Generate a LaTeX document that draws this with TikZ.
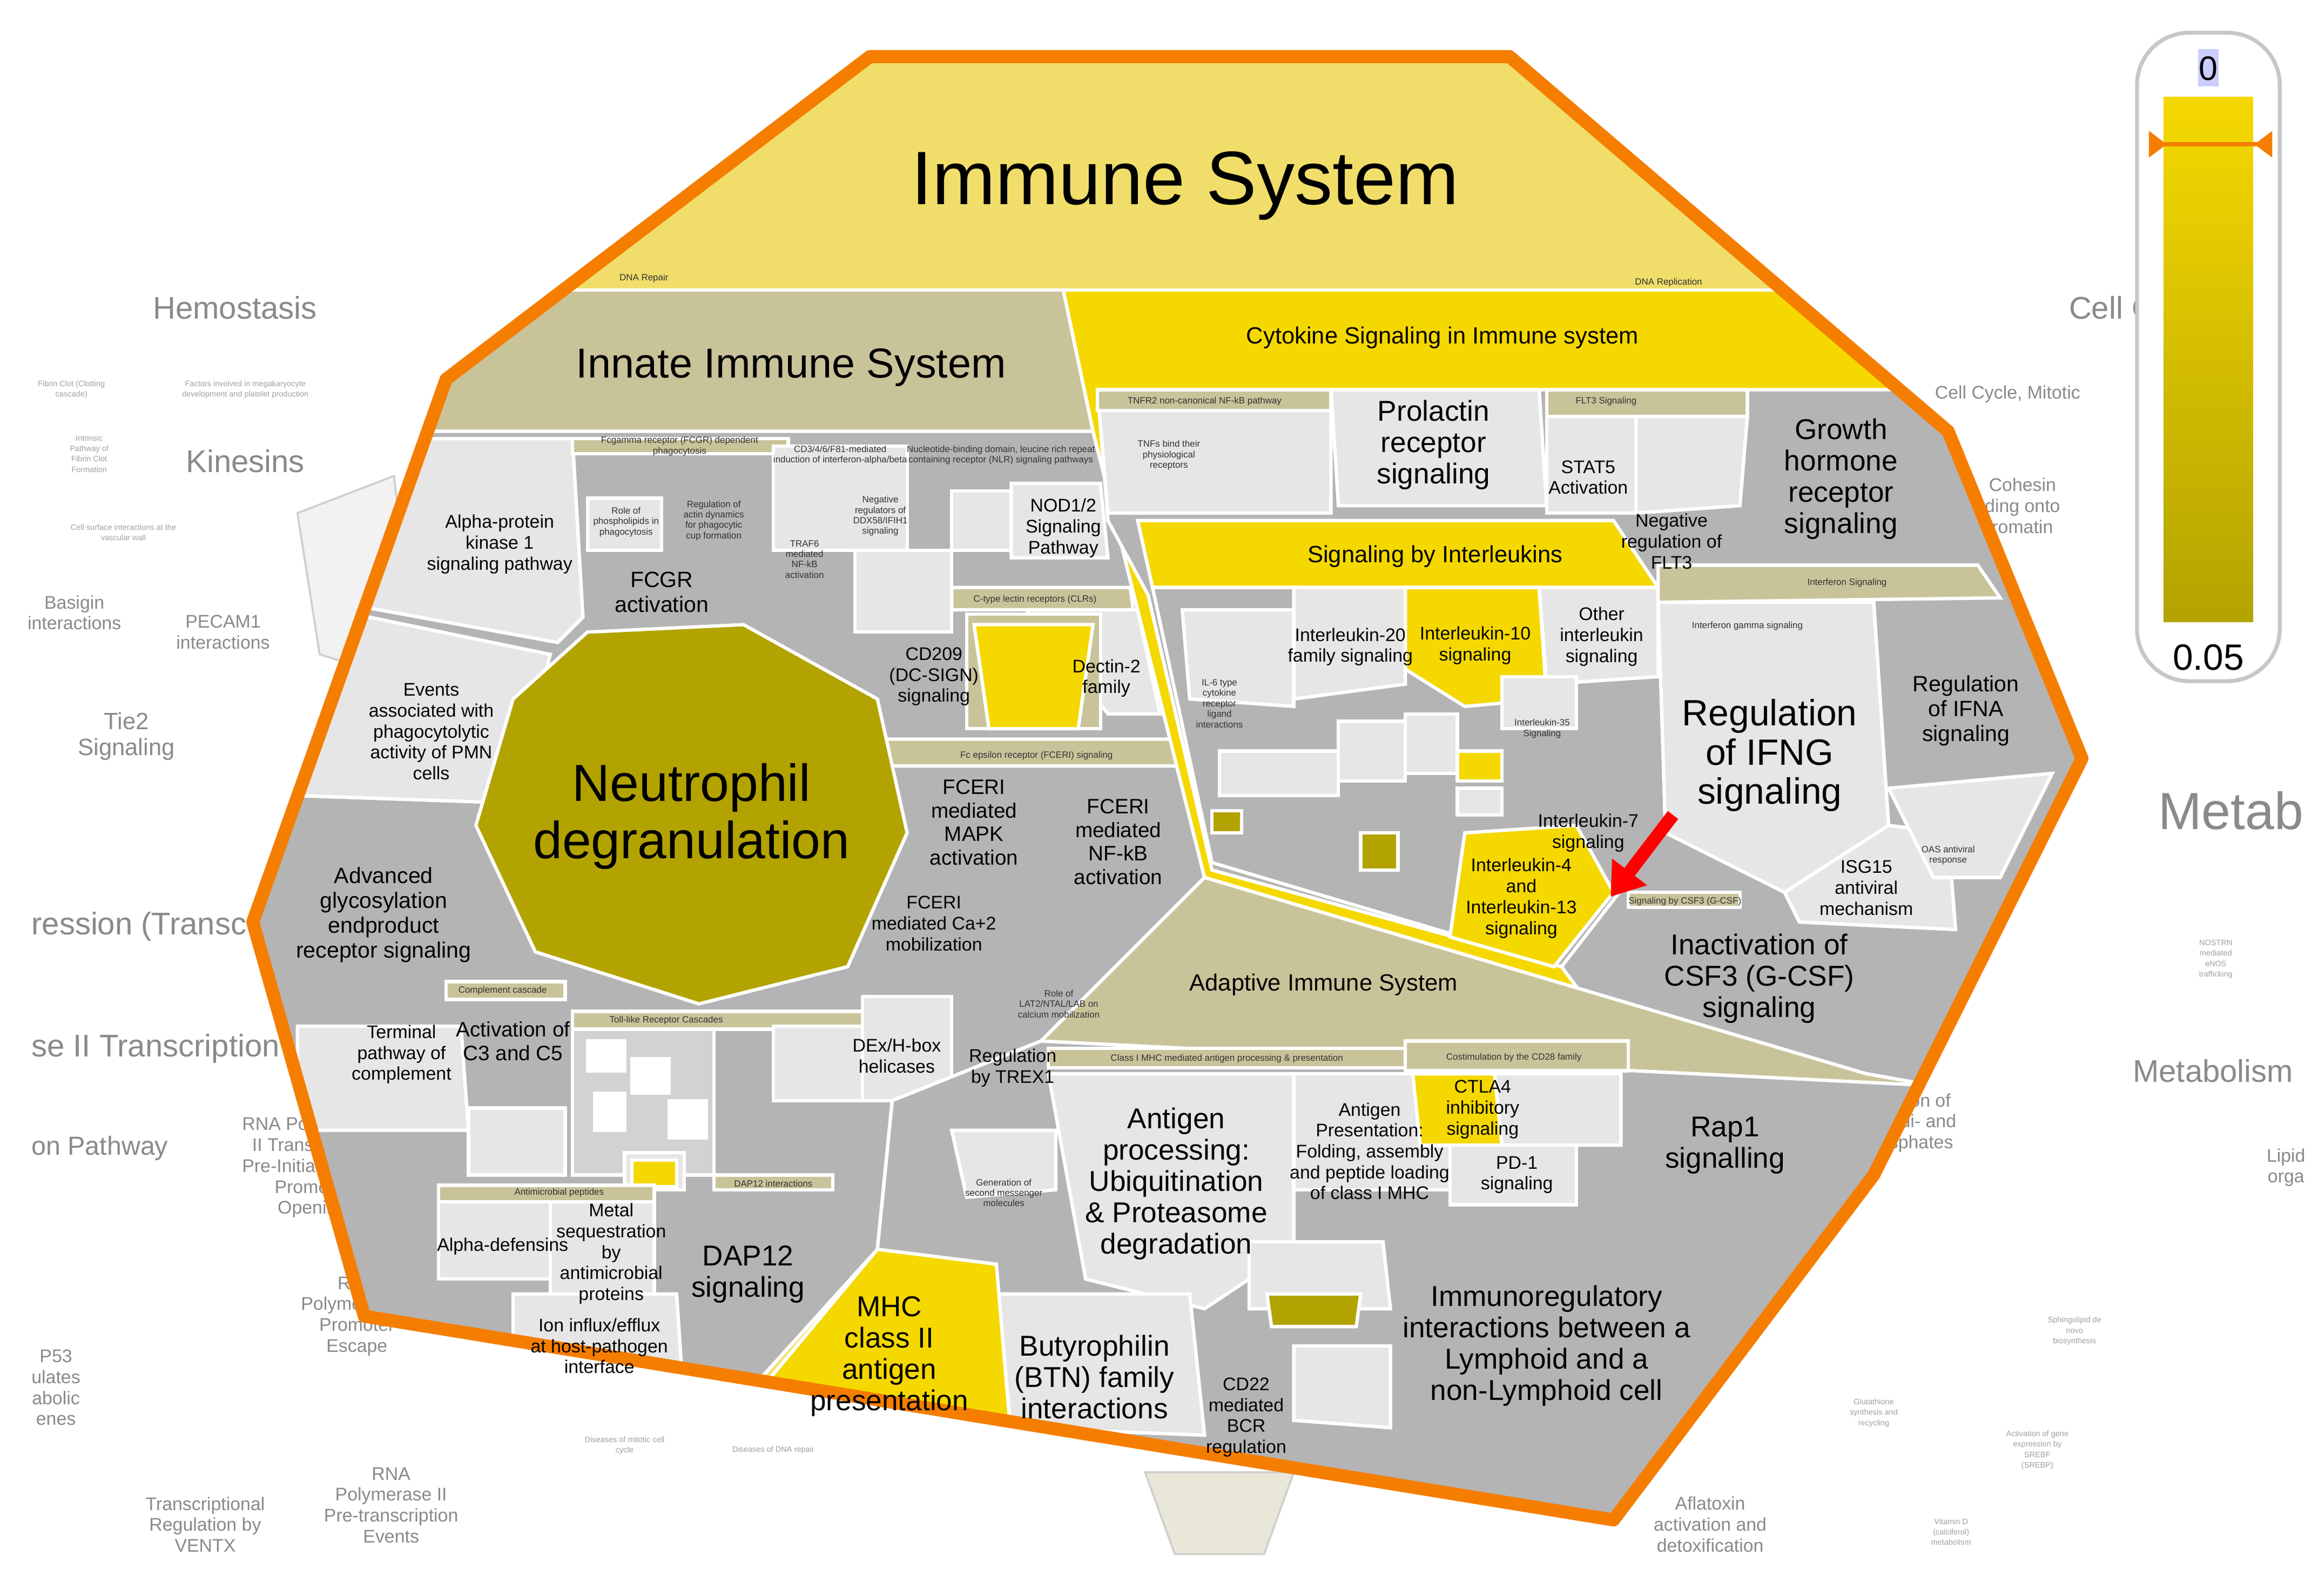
\documentclass[tikz,border=0pt]{standalone}
\usepackage{fontspec}
\setmainfont{Liberation Sans}
\usetikzlibrary{arrows.meta}
\begin{document}
\definecolor{gr}{HTML}{B4B4B4}
\definecolor{lg}{HTML}{E6E6E6}
\definecolor{tan}{HTML}{C9C39A}
\definecolor{yl}{HTML}{F5D800}
\definecolor{ty}{HTML}{F1DE6A}
\definecolor{ol}{HTML}{B3A300}
\definecolor{org}{HTML}{F57E00}
\definecolor{fa}{HTML}{8A8A8A}
\begin{tikzpicture}[x=0.02cm,y=-0.02cm,
 cell/.style={draw=white,line width=1.3pt},
 t/.style={font=\fontsize{7}{8}\selectfont,align=center},
 ts/.style={font=\fontsize{3.5}{4}\selectfont,align=center,text=black!80},
 tm/.style={font=\fontsize{11}{12}\selectfont,align=center},
 tb/.style={font=\fontsize{14}{15}\selectfont,align=center},
 th/.style={font=\fontsize{9}{10}\selectfont,align=center},
 bg/.style={font=\fontsize{12}{13}\selectfont,align=center,text=fa},
 bgs/.style={font=\fontsize{7}{8}\selectfont,align=center,text=fa},
 bgt/.style={font=\fontsize{3}{4}\selectfont,align=center,text=fa!80}]
\useasboundingbox (0,0) rectangle (1550,1073);
% background labels
\node[bg] (b1) at (158,207) {Hemostasis};
\node[bg] (b2) at (165,310) {Kinesins};
\node[bgs] (b3) at (50,412) {Basigin\\interactions};
\node[bgs] (b4) at (150,425) {PECAM1\\interactions};
\node[bgs,font=\fontsize{9}{10}\selectfont] (b5) at (85,495) {Tie2\\Signaling};
\node[bg,anchor=west] (b6) at (15,623) {ression (Transc};
\node[bg,anchor=west] (b7) at (15,705) {se II Transcription};
\node[bg,anchor=west,font=\fontsize{10}{11}\selectfont] (b8) at (15,772) {on Pathway};
\node[bgs] (b9) at (210,785) {RNA Polymerase\\II Transcription\\Pre-Initiation And\\Promoter\\Opening};
\node[bgs] (b10) at (263,1012) {RNA\\Polymerase II\\Pre-transcription\\Events};
\node[bgs] (b11) at (138,1025) {Transcriptional\\Regulation by\\VENTX};
\node[bgs] (b12) at (240,885) {RNA\\Polymerase II\\Promoter\\Escape};
\node[bgs,anchor=west] (b13) at (15,933) {P53\\ulates\\abolic\\enes};
\node[bg] (b14) at (1420,207) {Cell C};
\node[bgs] (b15) at (1350,265) {Cell Cycle, Mitotic};
\node[bg,font=\fontsize{20}{22}\selectfont,anchor=west] (b16) at (1445,545) {Metab};
\node[bg,anchor=west] (b17) at (1428,720) {Metabolism};
\node[bgs,anchor=west] (b18) at (1518,785) {Lipid\\orga};
\node[bgs] (b19) at (1150,1025) {Aflatoxin\\activation and\\detoxification};
\node[bgs] (b20) at (1285,755) {version of\\tide di- and\\hosphates};
\node[bgs] (b21) at (1360,340) {Cohesin\\ding onto\\romatin};
\node[bgt] (b22) at (48,262) {Fibrin Clot (Clotting\\cascade)};
\node[bgt] (b23) at (165,262) {Factors involved in megakaryocyte\\development and platelet production};
\node[bgt] (b24) at (60,305) {Intrinsic\\Pathway of\\Fibrin Clot\\Formation};
\node[bgt] (b25) at (83,358) {Cell surface interactions at the\\vascular wall};
\node[bgt] (b26) at (1490,645) {NOSTRN\\mediated\\eNOS\\trafficking};
\node[bgt] (b27) at (1312,1030) {Vitamin D\\(calciferol)\\metabolism};
\node[bgt] (b28) at (1370,975) {Activation of gene\\expression by\\SREBF\\(SREBP)};
\node[bgt] (b29) at (1260,950) {Glutathione\\synthesis and\\recycling};
\node[bgt] (b30) at (1395,895) {Sphingolipid de\\novo\\biosynthesis};
\node[bgt] (b31) at (520,975) {Diseases of DNA repair};
\node[bgt] (b32) at (420,972) {Diseases of mitotic cell\\cycle};
% faded outer polygon
\draw[fa!40,line width=0.8pt,fill=lg!50] (200,345)--(265,320)--(280,460)--(215,440)--cycle;
\draw[fa!40,line width=0.8pt,fill=tan!40] (770,990)--(870,990)--(850,1045)--(790,1045)--cycle;
% Octagon
\coordinate (o1) at (585,38); \coordinate (o2) at (1015,38); \coordinate (o3) at (1310,290);
\coordinate (o4) at (1400,510); \coordinate (o5) at (1260,790); \coordinate (o6) at (1085,1022);
\coordinate (o7) at (245,885); \coordinate (o8) at (170,620); \coordinate (o9) at (300,255);
\fill[ty] (o1)--(o2)--(o3)--(o4)--(o5)--(o6)--(o7)--(o8)--(o9)--cycle;
\begin{scope}
\clip (o1)--(o2)--(o3)--(o4)--(o5)--(o6)--(o7)--(o8)--(o9)--cycle;
% Innate
\fill[tan,cell] (230,195)--(715,195)--(735,290)--(810,590)--(700,700)--(600,740)--(590,840)--(495,945)--(200,900)--(120,620)--cycle;
\fill[gr,cell] (200,290)--(735,290)--(810,590)--(700,700)--(600,740)--(590,840)--(495,945)--(200,900)--(120,620)--cycle;
\fill[lg,cell] (200,295)--(385,295)--(392,415)--(375,432)--(200,400)--cycle;
\fill[lg,cell] (200,405)--(370,440)--(345,540)--(200,535)--cycle;
\fill[tan,cell] (385,295)--(530,295)--(530,305)--(385,305)--cycle;
\fill[lg,cell] (520,300)--(610,300)--(610,370)--(520,370)--cycle;
\fill[lg,cell] (575,370)--(640,370)--(640,425)--(575,425)--cycle;
\fill[lg,cell] (395,335)--(445,335)--(445,370)--(395,370)--cycle;
\fill[lg,cell] (640,330)--(680,330)--(680,370)--(640,370)--cycle;
\fill[lg,cell] (680,325)--(740,325)--(745,375)--(680,375)--cycle;
\fill[tan,cell] (640,395)--(760,395)--(762,410)--(640,410)--cycle;
\fill[lg,cell] (690,410)--(765,410)--(780,480)--(745,480)--cycle;
\fill[tan,cell] (650,413)--(740,413)--(740,490)--(650,490)--cycle;
\fill[yl,cell] (655,420)--(735,420)--(725,490)--(665,490)--cycle;
\fill[tan,cell] (595,497)--(790,497)--(795,515)--(595,515)--cycle;
\fill[ol,cell] (395,425)--(500,420)--(590,470)--(610,560)--(570,650)--(470,675)--(360,640)--(320,555)--(345,470)--cycle;
\fill[tan,cell] (300,660)--(380,660)--(380,672)--(300,672)--cycle;
\fill[lg,cell] (200,690)--(310,690)--(315,760)--(200,760)--cycle;
\fill[lg,cell] (315,745)--(380,745)--(380,790)--(315,790)--cycle;
\fill[tan,cell] (385,680)--(585,680)--(585,692)--(385,692)--cycle;
\fill[lg!80!gray,cell] (385,692)--(480,692)--(480,790)--(385,790)--cycle;
\fill[white,cell] (395,700)--(420,700)--(420,720)--(395,720)--cycle;
\fill[white,cell] (425,712)--(450,712)--(450,735)--(425,735)--cycle;
\fill[white,cell] (400,735)--(420,735)--(420,760)--(400,760)--cycle;
\fill[white,cell] (450,740)--(475,740)--(475,765)--(450,765)--cycle;
\fill[lg,cell] (520,690)--(580,690)--(580,740)--(520,740)--cycle;
\fill[lg,cell] (580,670)--(640,670)--(640,740)--(580,740)--cycle;
\fill[lg,cell] (420,775)--(460,775)--(460,800)--(420,800)--cycle;
\fill[yl,cell] (425,780)--(455,780)--(455,798)--(425,798)--cycle;
\fill[tan,cell] (295,797)--(440,797)--(440,808)--(295,808)--cycle;
\fill[lg,cell] (295,808)--(370,808)--(370,860)--(295,860)--cycle;
\fill[lg,cell] (370,808)--(440,808)--(440,870)--(370,870)--cycle;
\fill[lg,cell] (345,870)--(455,870)--(460,945)--(345,945)--cycle;
\fill[tan,cell] (480,790)--(560,790)--(560,800)--(480,800)--cycle;
% Cytokine
\fill[yl,cell] (715,195)--(1330,195)--(1410,510)--(1255,722)--(810,590)--(735,290)--cycle;
\fill[gr,cell] (738,262)--(1330,262)--(1410,510)--(1300,730)--(1255,722)--(1080,690)--(1050,650)--(815,585)--(772,400)--(745,350)--cycle;
\fill[lg,cell] (738,262)--(895,262)--(895,345)--(745,345)--cycle;
\fill[tan,cell] (738,262)--(895,262)--(895,276)--(738,276)--cycle;
\fill[lg,cell] (895,262)--(1035,262)--(1040,340)--(900,340)--cycle;
\fill[tan,cell] (1040,262)--(1175,262)--(1175,280)--(1040,280)--cycle;
\fill[lg,cell] (1040,280)--(1100,280)--(1100,345)--(1040,345)--cycle;
\fill[lg,cell] (1100,280)--(1175,280)--(1170,340)--(1100,345)--cycle;
\fill[yl,cell] (765,350)--(1085,350)--(1115,395)--(775,395)--cycle;
\fill[gr,cell] (775,395)--(1115,395)--(1120,560)--(1050,650)--(815,580)--cycle;
\fill[lg,cell] (795,410)--(870,410)--(870,475)--(800,470)--cycle;
\fill[lg,cell] (870,395)--(945,395)--(945,460)--(870,470)--cycle;
\fill[yl,cell] (945,395)--(1035,395)--(1040,470)--(985,475)--(945,450)--cycle;
\fill[lg,cell] (1035,395)--(1115,395)--(1115,455)--(1040,460)--cycle;
\fill[lg,cell] (900,485)--(945,485)--(945,525)--(900,525)--cycle;
\fill[lg,cell] (945,480)--(980,480)--(980,520)--(945,520)--cycle;
\fill[yl,cell] (980,505)--(1010,505)--(1010,525)--(980,525)--cycle;
\fill[lg,cell] (980,530)--(1010,530)--(1010,548)--(980,548)--cycle;
\fill[lg,cell] (820,505)--(900,505)--(900,535)--(820,535)--cycle;
\fill[ol,cell] (815,545)--(835,545)--(835,560)--(815,560)--cycle;
\fill[ol,cell] (915,560)--(940,560)--(940,585)--(915,585)--cycle;
\fill[lg,cell] (1010,455)--(1060,455)--(1060,490)--(1010,490)--cycle;
\fill[yl,cell] (985,560)--(1060,555)--(1085,600)--(1045,650)--(975,630)--cycle;
\fill[tan,cell] (1115,380)--(1330,380)--(1345,402)--(1115,405)--cycle;
\fill[lg,cell] (1115,405)--(1260,405)--(1270,555)--(1200,600)--(1120,560)--cycle;
\fill[lg,cell] (1200,600)--(1270,555)--(1310,560)--(1315,625)--(1210,620)--cycle;
\fill[lg,cell] (1270,530)--(1380,520)--(1345,590)--(1300,590)--cycle;
\fill[tan,cell] (1095,600)--(1170,600)--(1170,610)--(1095,610)--cycle;
% Adaptive
\fill[tan,cell] (810,590)--(1255,722)--(1300,730)--(1085,1030)--(490,960)--(590,840)--(600,740)--(700,700)--cycle;
\fill[gr,cell] (700,700)--(1300,730)--(1085,1030)--(490,960)--(590,840)--(600,740)--cycle;
\fill[tan,cell] (705,705)--(945,705)--(945,718)--(705,718)--cycle;
\fill[lg,cell] (705,722)--(870,722)--(870,840)--(810,880)--(730,860)--cycle;
\fill[lg,cell] (870,722)--(975,722)--(975,800)--(870,800)--cycle;
\fill[tan,cell] (945,700)--(1095,700)--(1095,720)--(945,720)--cycle;
\fill[yl,cell] (950,722)--(1005,722)--(1010,770)--(955,770)--cycle;
\fill[lg,cell] (1005,722)--(1090,722)--(1090,770)--(1010,770)--cycle;
\fill[lg,cell] (975,770)--(1060,770)--(1060,810)--(975,810)--cycle;
\fill[lg,cell] (640,760)--(710,760)--(710,800)--(650,805)--cycle;
\fill[lg,cell] (840,835)--(930,835)--(935,880)--(840,880)--cycle;
\fill[ol,cell] (852,870)--(915,870)--(912,892)--(855,892)--cycle;
\fill[lg,cell] (670,870)--(800,870)--(810,965)--(680,960)--cycle;
\fill[yl,cell] (590,840)--(670,850)--(680,968)--(490,960)--cycle;
\fill[lg,cell] (870,905)--(935,905)--(935,960)--(870,955)--cycle;
\end{scope}
\draw[org,line width=5pt,line join=round] (o1)--(o2)--(o3)--(o4)--(o5)--(o6)--(o7)--(o8)--(o9)--cycle;
% Labels
\node[font=\fontsize{29}{30}\selectfont] (l0) at (797,125) {Immune System};
\node[font=\fontsize{16}{17}\selectfont] (l1) at (532,247) {Innate Immune System};
\node[th] (l2) at (970,227) {Cytokine Signaling in Immune system};
\node[th] (l3) at (890,662) {Adaptive Immune System};
\node[th] (l4) at (965,374) {Signaling by Interleukins};
\node[font=\fontsize{20}{22}\selectfont,align=center] (l5) at (465,549) {Neutrophil\\degranulation};
\node[tb] (l6) at (1190,508) {Regulation\\of IFNG\\signaling};
\node[tm] (l7) at (1238,322) {Growth\\hormone\\receptor\\signaling};
\node[tm] (l8) at (964,299) {Prolactin\\receptor\\signaling};
\node[tm] (l9) at (791,796) {Antigen\\processing:\\Ubiquitination\\\& Proteasome\\degradation};
\node[tm] (l10) at (1183,658) {Inactivation of\\CSF3 (G-CSF)\\signaling};
\node[tm] (l11) at (1160,770) {Rap1\\signalling};
\node[tm] (l12) at (598,912) {MHC\\class II\\antigen\\presentation};
\node[tm] (l13) at (736,926) {Butyrophilin\\(BTN) family\\interactions};
\node[tm] (l14) at (1040,905) {Immunoregulatory\\interactions between a\\Lymphoid and a\\non-Lymphoid cell};
\node[tm] (l15) at (503,857) {DAP12\\signaling};
\node[t] (l16) at (336,366) {Alpha-protein\\kinase 1\\signaling pathway};
\node[t] (l17) at (290,492) {Events\\associated with\\phagocytolytic\\activity of PMN\\cells};
\node[t,font=\fontsize{8.5}{9.5}\selectfont] (l18) at (258,615) {Advanced\\glycosylation\\endproduct\\receptor signaling};
\node[t,font=\fontsize{8.5}{9.5}\selectfont] (l19) at (445,398) {FCGR\\activation};
\node[t] (l20) at (715,355) {NOD1/2\\Signaling\\Pathway};
\node[t] (l21) at (744,456) {Dectin-2\\family};
\node[t] (l22) at (628,455) {CD209\\(DC-SIGN)\\signaling};
\node[t,font=\fontsize{8}{9}\selectfont] (l23) at (655,553) {FCERI\\mediated\\MAPK\\activation};
\node[t,font=\fontsize{8}{9}\selectfont] (l24) at (752,566) {FCERI\\mediated\\NF-kB\\activation};
\node[t] (l25) at (628,621) {FCERI\\mediated Ca+2\\mobilization};
\node[t] (l26) at (270,709) {Terminal\\pathway of\\complement};
\node[t,font=\fontsize{8}{9}\selectfont] (l27) at (345,700) {Activation of\\C3 and C5};
\node[t] (l28) at (338,838) {Alpha-defensins};
\node[t] (l29) at (411,843) {Metal\\sequestration\\by\\antimicrobial\\proteins};
\node[t] (l30) at (403,905) {Ion influx/efflux\\at host-pathogen\\interface};
\node[t] (l31) at (603,710) {DEx/H-box\\helicases};
\node[t] (l32) at (681,718) {Regulation\\by TREX1};
\node[t] (l33) at (1068,321) {STAT5\\Activation};
\node[t] (l34) at (1124,364) {Negative\\regulation of\\FLT3};
\node[t] (l35) at (992,434) {Interleukin-10\\signaling};
\node[t] (l36) at (1077,428) {Other\\interleukin\\signaling};
\node[t] (l37) at (908,435) {Interleukin-20\\family signaling};
\node[t] (l38) at (1068,560) {Interleukin-7\\signaling};
\node[t] (l39) at (1023,604) {Interleukin-4\\and\\Interleukin-13\\signaling};
\node[t,font=\fontsize{8.5}{9.5}\selectfont] (l40) at (1322,478) {Regulation\\of IFNA\\signaling};
\node[t] (l41) at (1255,597) {ISG15\\antiviral\\mechanism};
\node[t] (l42) at (921,774) {Antigen\\Presentation:\\Folding, assembly\\and peptide loading\\of class I MHC};
\node[t] (l43) at (997,746) {CTLA4\\inhibitory\\signaling};
\node[t] (l44) at (1020,790) {PD-1\\signaling};
\node[t] (l45) at (838,953) {CD22\\mediated\\BCR\\regulation};
\node[ts] (s1) at (1080,270) {FLT3 Signaling};
\node[ts] (s2) at (810,270) {TNFR2 non-canonical NF-kB pathway};
\node[ts] (s3) at (1242,392) {Interferon Signaling};
\node[ts] (s4) at (1175,421) {Interferon gamma signaling};
\node[ts] (s5) at (825,712) {Class I MHC mediated antigen processing \& presentation};
\node[ts] (s6) at (1018,711) {Costimulation by the CD28 family};
\node[ts] (s7) at (448,686) {Toll-like Receptor Cascades};
\node[ts] (s8) at (338,666) {Complement cascade};
\node[ts] (s9) at (376,802) {Antimicrobial peptides};
\node[ts] (s10) at (520,796) {DAP12 interactions};
\node[ts] (s11) at (697,508) {Fc epsilon receptor (FCERI) signaling};
\node[ts] (s12) at (696,403) {C-type lectin receptors (CLRs)};
\node[ts] (s13) at (457,300) {Fcgamma receptor (FCGR) dependent\\phagocytosis};
\node[ts] (s14) at (565,306) {CD3/4/6/F81-mediated\\induction of interferon-alpha/beta};
\node[ts] (s15) at (673,306) {Nucleotide-binding domain, leucine rich repeat\\containing receptor (NLR) signaling pathways};
\node[ts] (s16) at (786,306) {TNFs bind their\\physiological\\receptors};
\node[ts] (s17) at (1310,575) {OAS antiviral\\response};
\node[ts] (s18) at (1133,606) {Signaling by CSF3 (G-CSF)};
\node[ts] (s19) at (541,376) {TRAF6\\mediated\\NF-kB\\activation};
\node[ts] (s20) at (592,347) {Negative\\regulators of\\DDX58/IFIH1\\signaling};
\node[ts] (s21) at (421,351) {Role of\\phospholipids in\\phagocytosis};
\node[ts] (s22) at (480,350) {Regulation of\\actin dynamics\\for phagocytic\\cup formation};
\node[ts] (s23) at (433,187) {DNA Repair};
\node[ts] (s24) at (1122,190) {DNA Replication};
\node[ts] (s25) at (675,802) {Generation of\\second messenger\\molecules};
\node[ts] (s26) at (820,473) {IL-6 type\\cytokine\\receptor\\ligand\\interactions};
\node[ts] (s27) at (1037,490) {Interleukin-35\\Signaling};
\node[ts] (s28) at (712,675) {Role of\\LAT2/NTAL/LAB on\\calcium mobilization};
% Color bar
\draw[lg!70!gray,fill=white,line width=1.5pt,rounded corners=20] (1437,22) rectangle (1533,458);
\shade[top color=yl,bottom color=ol] (1455,65) rectangle (1515,418);
\fill[blue!20] (1478,33) rectangle (1492,58);
\node[font=\fontsize{13}{14}\selectfont] (cb0) at (1485,46) {0};
\node[font=\fontsize{14}{15}\selectfont] (cb1) at (1485,442) {0.05};
\coordinate (tl) at (1448,97); \coordinate (tr) at (1525,97);
\draw[org,line width=1.5pt] (tl)--(tr);
\fill[org] (1445,88)--(1457,97)--(1445,106)--cycle;
\fill[org] (1528,88)--(1516,97)--(1528,106)--cycle;
% Red arrow
\coordinate (ra) at (1125,548); \coordinate (rb) at (1083,603);
\draw[red,line width=5pt,-{Triangle[length=12pt,width=16pt]}] (ra)--(rb);
\end{tikzpicture}
\end{document}
